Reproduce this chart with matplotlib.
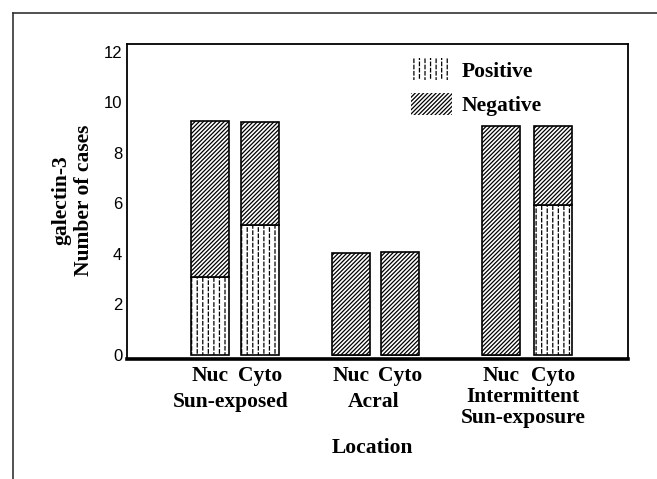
import numpy as np
import matplotlib
matplotlib.use("Agg")
import matplotlib.pyplot as plt
from matplotlib import hatch as mhatch
from matplotlib.path import Path
from matplotlib.patches import Patch
from matplotlib.lines import Line2D
import matplotlib.transforms as mtransforms

# ---------------- data ----------------
bar_labels = ["Nuc", "Cyto", "Nuc", "Cyto", "Nuc", "Cyto"]
group_labels = ["Sun-exposed", "Acral", "Intermittent\nSun-exposure"]
positive = [3.1, 5.15, 0.0, 0.0, 0.0, 5.95]
negative = [6.15, 4.05, 4.05, 4.08, 9.05, 3.1]
series_names = ["Positive", "Negative"]
yticks = [0, 2, 4, 6, 8, 10, 12]
x_title = "Location"
y_title = "galectin-3\nNumber of cases"

# ---------------- layout ----------------
bar_pos = [1.67, 2.67, 4.49, 5.47, 7.49, 8.53]
bar_width = 0.746
group_x = [(bar_pos[0] + bar_pos[1]) / 2 - 0.08,
           (bar_pos[2] + bar_pos[3]) / 2 - 0.04,
           (bar_pos[4] + bar_pos[5]) / 2 - 0.08]
group_y = [-0.1346, -0.1346, -0.152]


# custom hatch: staggered vertical dashes (replaces the '|' pattern)
class VerticalDashHatch(mhatch.HatchPatternBase):
    def __init__(self, hatch, density):
        self.num_lines = int(hatch.count('|') * density)
        self.ndash = int(round(self.num_lines * 0.9))
        self.num_vertices = self.num_lines * self.ndash * 4

    def set_vertices_and_codes(self, vertices, codes):
        i = 0
        frac = 0.55
        for c in range(self.num_lines):
            x = (c + 0.5) / self.num_lines
            off = 0.5 / self.ndash if c % 2 else 0.0
            for d in range(self.ndash):
                y0 = d / self.ndash + off
                y1 = y0 + frac / self.ndash
                if y1 <= 1.0:
                    segs = [(y0, y1), (y0, y0)]
                else:
                    segs = [(y0, 1.0), (0.0, y1 - 1.0)]
                for a, b in segs:
                    vertices[i] = (x, a)
                    vertices[i + 1] = (x, b)
                    codes[i] = Path.MOVETO
                    codes[i + 1] = Path.LINETO
                    i += 2


mhatch._hatch_types[1] = VerticalDashHatch

plt.rcParams['hatch.linewidth'] = 0.9
serif = ['Liberation Serif', 'DejaVu Serif']
sans = ['Liberation Sans', 'DejaVu Sans']
FS = 15.5

fig = plt.figure(figsize=(6.57, 4.79), dpi=100)
ax = fig.add_axes([126.5 / 657, 1 - 359.3 / 479, 501 / 657, 315 / 479])

pos_hatch = '|||'
neg_hatch = '////////'

ax.bar(bar_pos, positive, width=bar_width, color='white', edgecolor='black',
       hatch=pos_hatch, linewidth=1.2, zorder=1)
ax.bar(bar_pos, negative, width=bar_width, bottom=positive, color='white',
       edgecolor='black', hatch=neg_hatch, linewidth=1.2, zorder=1)

ax.set_xlim(0, 10.02)
ax.set_ylim(-0.17, 12.29)
ax.set_yticks(yticks)
ax.set_yticklabels([str(v) for v in yticks], family=sans, fontsize=12)
ax.set_xticks(bar_pos)
ax.set_xticklabels(bar_labels, family=serif, fontsize=FS, fontweight='bold')
ax.tick_params(axis='both', length=0)
ax.tick_params(axis='y', pad=3)
ax.tick_params(axis='x', pad=5)

for s in ['left', 'top', 'right']:
    ax.spines[s].set_linewidth(1.3)
ax.spines['bottom'].set_linewidth(2.6)

trans = mtransforms.blended_transform_factory(ax.transData, ax.transAxes)
for gx, gy, gl in zip(group_x, group_y, group_labels):
    ax.text(gx, gy, gl, transform=trans, ha='center', va='center',
            family=serif, fontsize=FS, fontweight='bold', linespacing=1.05)

ax.set_xlabel(x_title, family=serif, fontsize=FS, fontweight='bold')
ax.xaxis.set_label_coords(0.4918, -0.2805)
ax.xaxis.label.set_va('center')

ax.set_ylabel(y_title, family=serif, fontsize=FS, fontweight='bold',
              linespacing=1.2)
ax.yaxis.set_label_coords(-0.107, 0.5057)
ax.yaxis.label.set_va('center')
ax.yaxis.label.set_multialignment('center')

handles = [Patch(facecolor='white', edgecolor='black', hatch=pos_hatch, linewidth=0),
           Patch(facecolor='white', edgecolor='black', hatch=neg_hatch, linewidth=0)]
ax.legend(handles, series_names, loc='upper left',
          bbox_to_anchor=(0.568, 0.955), frameon=False, borderpad=0,
          borderaxespad=0, handlelength=1.9, handleheight=1.16,
          handletextpad=0.45, labelspacing=0.55,
          prop={'family': serif, 'size': FS, 'weight': 'bold'})

# outer frame lines (top and left)
x0, y0 = 13.4 / 657, 1 - 12.7 / 479
fig.add_artist(Line2D([x0, 1], [y0, y0], transform=fig.transFigure,
                      color='#333333', linewidth=1.2))
fig.add_artist(Line2D([x0, x0], [y0, 0], transform=fig.transFigure,
                      color='#333333', linewidth=1.2))

fig.savefig('out.png', dpi=100)
